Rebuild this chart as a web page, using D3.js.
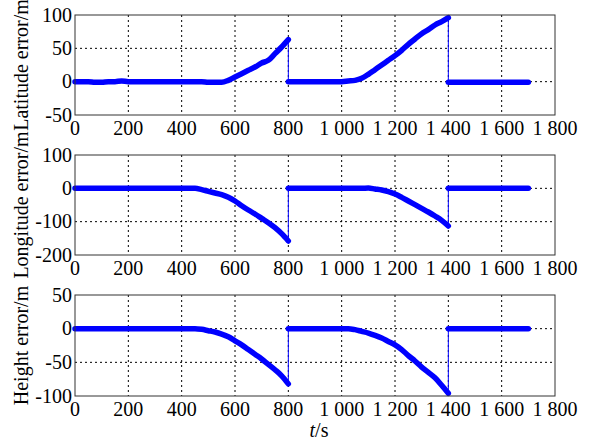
<!DOCTYPE html>
<html>
<head>
<meta charset="utf-8">
<script src="https://cdn.jsdelivr.net/npm/d3@7"></script>
<style>
  body { margin: 0; background: #fff; }
</style>
</head>
<body>
<div id="container"></div>
<script>
// time stamps of each flight segment (s)
const t1 = [0,25,50,75,100,125,150,175,200,225,250,275,300,325,350,375,400,425,450,475,500,525,550,575,600,625,650,675,700,725,750,775,800]
const t2 = [800,825,850,875,900,925,950,975,1000,1025,1050,1075,1100,1125,1150,1175,1200,1225,1250,1275,1300,1325,1350,1375,1400]
const t3 = [1400,1425,1450,1475,1500,1525,1550,1575,1600,1625,1650,1675,1700]

// latitude error (m)
const lat1 = [0,0,0,-1,-1,0,0,1,0,0,0,0,0,0,0,0,0,0,0,0,-1,-1,-1,2,7,12,17,22,28,32,42,52,63]
const lat2 = [0,0,0,0,0,0,0,0,0,1,2,5,11,18,25,32,39,47,56,64,72,78,85,90,96]
const lat3 = [-1,-1,-1,-1,-1,-1,-1,-1,-1,-1,-1,-1,-1]

// longitude error (m)
const lon1 = [0,0,0,0,0,0,0,0,0,0,0,0,0,0,0,0,0,0,0,-4,-9,-14,-19,-27,-38,-52,-65,-77,-90,-103,-118,-136,-158]
const lon2 = [0,0,0,0,0,0,0,0,0,0,0,0,1,-2,-5,-10,-17,-27,-38,-49,-60,-71,-83,-96,-113]
const lon3 = [0,0,0,0,0,0,0,0,0,0,0,0,0]

// height error (m)
const hgt1 = [0,0,0,0,0,0,0,0,0,0,0,0,0,0,0,0,0,0,0,-1,-3,-5,-8,-12,-18,-24,-31,-38,-45,-53,-61,-70,-82]
const hgt2 = [0,0,0,0,0,0,0,0,0,0,-1.5,-4,-6.5,-10,-14,-19,-24,-31,-40,-48,-57,-65,-73,-84,-96]
const hgt3 = [0,0,0,0,0,0,0,0,0,0,0,0,0]

const xTicks = [0,200,400,600,800,1000,1200,1400,1600,1800]

const panels = [
  {label: "Latitude error/m", domain: [-50, 100], ticks: [-50, 0, 50, 100], series: [lat1, lat2, lat3], top: 15, bottom: 115},
  {label: "Longitude error/m", domain: [-200, 100], ticks: [-200, -100, 0, 100], series: [lon1, lon2, lon3], top: 155, bottom: 255},
  {label: "Height error/m", domain: [-100, 50], ticks: [-100, -50, 0, 50], series: [hgt1, hgt2, hgt3], top: 295, bottom: 396}
]

const width = 589
const height = 443
const left = 75
const right = 555
const blue = "#0000ff"
const font = "'Liberation Serif', 'Times New Roman', Times, 'DejaVu Serif', serif"

const svg = d3.create("svg")
    .attr("width", width)
    .attr("height", height)
    .attr("font-family", font)
    .style("font-family", font)

const x = d3.scaleLinear().domain([0, 1800]).range([left, right])
const fmt = d => d >= 1000 ? String(d).replace(/^(\d)(\d{3})$/, "$1 $2") : String(d)

panels.forEach(p => {
    const y = d3.scaleLinear().domain(p.domain).range([p.bottom, p.top])
    const g = svg.append("g")

    // grid
    g.selectAll(".vgrid")
        .data(xTicks.slice(1, -1))
        .enter().append("line")
        .attr("x1", d => x(d)).attr("x2", d => x(d))
        .attr("y1", p.top).attr("y2", p.bottom)
        .attr("stroke", "#000").attr("stroke-width", 1)
        .attr("stroke-dasharray", "2,3")
    g.selectAll(".hgrid")
        .data(p.ticks.slice(1, -1))
        .enter().append("line")
        .attr("x1", left).attr("x2", right)
        .attr("y1", d => y(d)).attr("y2", d => y(d))
        .attr("stroke", "#000").attr("stroke-width", 1)
        .attr("stroke-dasharray", "2,3")

    // y tick labels
    g.selectAll(".ylab")
        .data(p.ticks)
        .enter().append("text")
        .attr("x", left - 3)
        .attr("y", d => y(d))
        .attr("dy", "0.33em")
        .attr("text-anchor", "end")
        .attr("font-size", 20)
        .text(d => d)

    // x tick labels
    g.selectAll(".xlab")
        .data(xTicks)
        .enter().append("text")
        .attr("x", d => x(d))
        .attr("y", p.bottom + 20)
        .attr("text-anchor", "middle")
        .attr("font-size", 20)
        .text(fmt)

    // y axis label
    g.append("text")
        .attr("transform", `translate(28, ${(p.top + p.bottom) / 2}) rotate(-90)`)
        .attr("text-anchor", "middle")
        .attr("font-size", 20)
        .text(p.label)

    // data
    const segs = [t1, t2, t3].map((ts, i) => ts.map((t, j) => [t, p.series[i][j]]))
    const thin = d3.line().x(d => x(d[0])).y(d => y(d[1]))
    const thick = d3.line().x(d => x(d[0])).y(d => y(d[1])).curve(d3.curveMonotoneX)

    g.append("path")
        .attr("d", thin(segs.flat()))
        .attr("fill", "none")
        .attr("stroke", blue)
        .attr("stroke-width", 1)

    segs.forEach(s => {
        g.append("path")
            .attr("d", thick(s))
            .attr("fill", "none")
            .attr("stroke", blue)
            .attr("stroke-width", 5.5)
            .attr("stroke-linecap", "round")
            .attr("stroke-linejoin", "round")
    })

    // frame
    g.append("rect")
        .attr("x", left).attr("y", p.top)
        .attr("width", right - left).attr("height", p.bottom - p.top)
        .attr("fill", "none")
        .attr("stroke", "#333")
        .attr("stroke-width", 1)
})

const xl = svg.append("text")
    .attr("x", 319)
    .attr("y", 437)
    .attr("text-anchor", "middle")
    .attr("font-size", 20)
xl.append("tspan").attr("font-style", "italic").text("t")
xl.append("tspan").text("/s")

document.querySelector("#container").appendChild(svg.node())
</script>
</body>
</html>
